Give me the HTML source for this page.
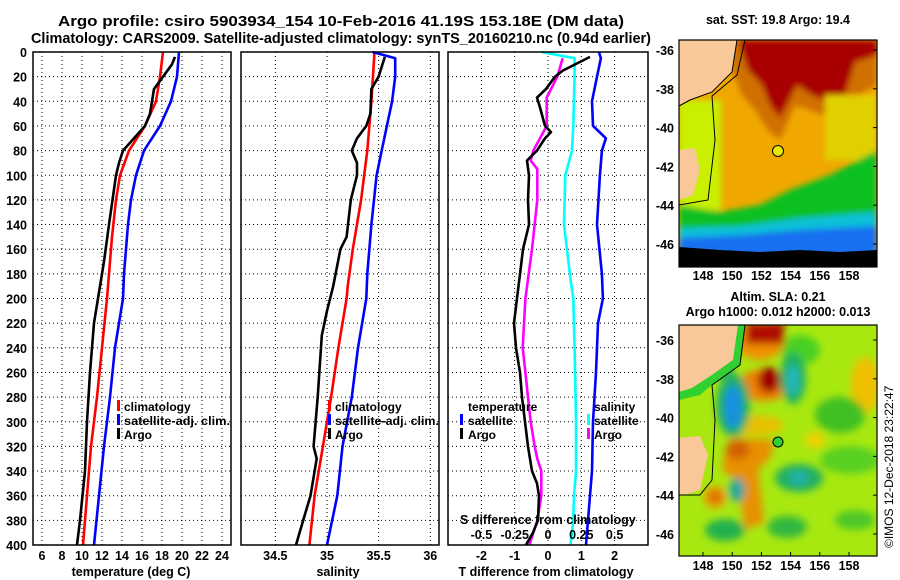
<!DOCTYPE html>
<html><head><meta charset="utf-8"><style>
body{margin:0;background:#fff;}
svg{display:block;font-family:"Liberation Sans",sans-serif;font-weight:bold;}
</style></head><body>
<svg id="chart" width="900" height="580" viewBox="0 0 900 580" xmlns="http://www.w3.org/2000/svg">
<defs>
<filter id="bl" x="-20%" y="-20%" width="140%" height="140%"><feGaussianBlur stdDeviation="3"/></filter>
<filter id="bl2" x="-50%" y="-50%" width="200%" height="200%"><feGaussianBlur stdDeviation="4"/></filter>
<clipPath id="c1"><rect x="679" y="40" width="198" height="227"/></clipPath>
<clipPath id="c2"><rect x="679" y="325" width="198" height="231"/></clipPath>
</defs>
<text x="341" y="26" font-size="15" text-anchor="middle" textLength="566" lengthAdjust="spacingAndGlyphs">Argo profile: csiro 5903934_154 10-Feb-2016 41.19S 153.18E (DM data)</text>
<text x="341" y="43" font-size="15" text-anchor="middle" textLength="620" lengthAdjust="spacingAndGlyphs">Climatology: CARS2009. Satellite-adjusted climatology: synTS_20160210.nc (0.94d earlier)</text>
<g id="grid"></g>
<g id="lines"></g>
<g id="axes"></g>

<g font-size="12">
<rect x="117" y="400" width="3" height="11" fill="#f00"/><text x="124" y="411">climatology</text>
<rect x="117" y="414" width="3" height="11" fill="#00f"/><text x="124" y="425" textLength="106" lengthAdjust="spacingAndGlyphs">satellite-adj. clim.</text>
<rect x="117" y="428" width="3" height="11" fill="#000"/><text x="124" y="439">Argo</text>
</g>
<g font-size="12">
<rect x="328" y="400" width="3" height="11" fill="#f00"/><text x="335" y="411">climatology</text>
<rect x="328" y="414" width="3" height="11" fill="#00f"/><text x="335" y="425" textLength="104" lengthAdjust="spacingAndGlyphs">satellite-adj. clim.</text>
<rect x="328" y="428" width="3" height="11" fill="#000"/><text x="335" y="439">Argo</text>
</g>
<g font-size="12">
<text x="468" y="411">temperature</text>
<rect x="460" y="414" width="3" height="11" fill="#00f"/><text x="468" y="425">satellite</text>
<rect x="460" y="428" width="3" height="11" fill="#000"/><text x="468" y="439">Argo</text>
<text x="594" y="411">salinity</text>
<rect x="587" y="414" width="3" height="11" fill="#0ff"/><text x="594" y="425">satellite</text>
<rect x="587" y="428" width="3" height="11" fill="#f0f"/><text x="594" y="439">Argo</text>
<text x="460" y="524" font-size="12.5">S difference from climatology</text>
</g>
<text x="131" y="576" font-size="12.5" text-anchor="middle">temperature (deg C)</text>
<text x="338" y="576" font-size="12.5" text-anchor="middle">salinity</text>
<text x="546" y="576" font-size="12.5" text-anchor="middle">T difference from climatology</text>

<text x="778" y="24" font-size="12.5" text-anchor="middle">sat. SST: 19.8 Argo: 19.4</text>
<g clip-path="url(#c1)">
<rect x="679" y="40" width="198" height="227" fill="#f0a800"/>
<g filter="url(#bl)">
<polygon points="728,40 877,40 877,85 850,100 835,110 822,115 810,110 795,105 780,140 768,130 755,110 742,95 732,70" fill="#d07000"/>
<polygon points="738,40 877,40 877,55 855,62 845,95 825,100 812,95 797,85 780,118 770,105 762,85 748,70" fill="#a80000"/>
<rect x="825" y="95" width="52" height="65" fill="#e0d000"/>
<rect x="679" y="100" width="42" height="110" fill="#c8f000"/>
<polygon points="679,205 720,212 760,205 790,190 830,175 877,150 877,267 679,267" fill="#10c020"/>
<polygon points="679,228 740,226 800,218 877,212 877,267 679,267" fill="#10c0d8"/>
<polygon points="679,238 740,235 800,230 877,226 877,267 679,267" fill="#1870f0"/>
</g>
<polygon points="679,247 720,250 760,252 800,250 840,252 877,250 877,267 679,267" fill="#000"/>
<polygon points="679,40 737,40 732,72 712,92 690,100 679,106" fill="#f8c898"/>
<polygon points="679,150 695,148 700,170 693,195 679,200" fill="#f8c898"/>
<polyline points="737,40 732,72 712,92 690,100 679,106" fill="none" stroke="#000" stroke-width="1"/>
<polyline points="745,40 737,75 712,96 715,140 708,200 679,205" fill="none" stroke="#000" stroke-width="1"/>
<circle cx="778" cy="151" r="5.5" fill="#e8e800" stroke="#000" stroke-width="1"/>
</g>
<rect x="679" y="40" width="198" height="227" fill="none" stroke="#000" stroke-width="1.2"/>

<text x="778" y="301" font-size="12.5" text-anchor="middle">Altim. SLA: 0.21</text>
<text x="778" y="316" font-size="12.5" text-anchor="middle">Argo h1000: 0.012 h2000: 0.013</text>
<g clip-path="url(#c2)">
<rect x="679" y="325" width="198" height="231" fill="#a8e810"/>
<g filter="url(#bl2)">
<ellipse cx="800" cy="350" rx="20" ry="15" fill="#48d020"/>
<ellipse cx="865" cy="385" rx="14" ry="28" fill="#f0c000"/>
<ellipse cx="840" cy="415" rx="25" ry="18" fill="#40c020"/>
<ellipse cx="760" cy="340" rx="25" ry="20" fill="#f09000"/>
<rect x="746" y="322" width="38" height="22" fill="#b01000"/>
<ellipse cx="764" cy="385" rx="26" ry="16" fill="#f08000"/>
<ellipse cx="769" cy="380" rx="11" ry="13" fill="#a00000"/>
<ellipse cx="722" cy="352" rx="14" ry="26" fill="#20b060"/>
<ellipse cx="722" cy="355" rx="7" ry="16" fill="#20a8d8"/>
<ellipse cx="793" cy="378" rx="13" ry="26" fill="#20b060"/>
<ellipse cx="793" cy="380" rx="6" ry="15" fill="#20b8c0"/>
<ellipse cx="752" cy="425" rx="32" ry="10" fill="#e8c000"/>
<ellipse cx="733" cy="405" rx="17" ry="32" fill="#20b060"/>
<ellipse cx="733" cy="407" rx="9" ry="22" fill="#1890e0"/>
<polygon points="730,438 775,440 770,458 758,470 764,522 745,530 738,482 722,470 725,450" fill="#e89000"/>
<ellipse cx="738" cy="450" rx="12" ry="9" fill="#d06000"/>
<ellipse cx="715" cy="497" rx="11" ry="11" fill="#f09000"/>
<ellipse cx="715" cy="497" rx="5" ry="5" fill="#d06000"/>
<ellipse cx="799" cy="478" rx="24" ry="14" fill="#20b060"/>
<ellipse cx="799" cy="478" rx="9" ry="7" fill="#20b0b0"/>
<ellipse cx="737" cy="490" rx="8" ry="12" fill="#20a8a0"/>
<ellipse cx="725" cy="530" rx="20" ry="11" fill="#20b050"/>
<ellipse cx="787" cy="527" rx="20" ry="11" fill="#30b840"/>
<ellipse cx="850" cy="460" rx="30" ry="14" fill="#58d020"/>
<ellipse cx="855" cy="520" rx="20" ry="10" fill="#50c828"/>
<ellipse cx="815" cy="440" rx="10" ry="8" fill="#f0d000"/>
</g>
<polygon points="679,325 738,325 733,360 712,375 692,388 679,392" fill="#f8c898"/>
<polygon points="679,438 700,436 708,455 700,490 684,495 679,495" fill="#f8c898"/>
<polygon points="738,325 745,325 740,365 715,382 700,395 679,400 679,392 692,388 712,375 733,360" fill="#30d030"/>
<polyline points="745,325 740,365 712,385 715,420 712,480 700,495 679,495" fill="none" stroke="#000" stroke-width="1"/>
<circle cx="778" cy="442" r="5" fill="#30d030" stroke="#000" stroke-width="1"/>
</g>
<rect x="679" y="325" width="198" height="231" fill="none" stroke="#000" stroke-width="1.2"/>
<g id="mapaxes"></g>
<text transform="translate(893,548) rotate(-90)" font-size="12" font-weight="normal">©IMOS 12-Dec-2018 23:22:47</text>
</svg>
<script>
const depthTicks = [0,20,40,60,80,100,120,140,160,180,200,220,240,260,280,300,320,340,360,380,400];
const tempTicks = [6,8,10,12,14,16,18,20,22,24];
const salTicks = [34.5,35,35.5,36];
const tdiffTicks = [-2,-1,0,1,2];
const sdiffTicks = [-0.5,-0.25,0,0.25,0.5];

const tClimD = [0,20,40,60,80,100,120,150,200,240,280,320,360,400];
const tClimV = [18.1,17.8,17.4,16.3,14.7,13.8,13.4,13.0,12.5,12.0,11.5,10.9,10.5,10.1];
const tSatD = [0,20,40,60,80,100,120,140,160,180,200,240,280,320,360,400];
const tSatV = [19.7,19.5,18.9,17.8,16.2,15.4,14.9,14.6,14.4,14.2,14.1,13.3,12.8,12.2,11.7,11.2];
const tArgoD = [4,10,20,30,50,60,70,80,90,100,140,170,200,220,260,300,340,380,400];
const tArgoV = [19.3,19.0,18.1,17.2,16.8,16.3,15.2,14.1,13.7,13.4,12.7,12.2,11.6,11.2,10.8,10.5,10.3,9.8,9.5];

const sClimD = [0,40,80,120,160,190,200,240,280,320,360,400];
const sClimV = [35.46,35.43,35.39,35.33,35.25,35.2,35.19,35.11,35.04,34.96,34.88,34.83];
const sSatD = [0,5,20,40,60,80,100,140,180,200,240,280,320,360,400];
const sSatV = [35.44,35.66,35.66,35.63,35.58,35.53,35.48,35.43,35.39,35.38,35.3,35.24,35.15,35.1,35.0];
const sArgoD = [4,20,30,50,60,70,80,90,100,120,150,160,190,210,230,280,320,330,360,380,400];
const sArgoV = [35.56,35.5,35.43,35.42,35.38,35.29,35.24,35.29,35.29,35.23,35.19,35.13,35.06,35.0,34.95,34.91,34.87,34.9,34.84,34.77,34.7];

const dSatSD = [0,5,20,60,80,100,140,185,200,240,300,340,360,380,400];
const dSatSV = [-0.05,0.2,0.2,0.19,0.18,0.13,0.12,0.17,0.19,0.2,0.21,0.21,0.195,0.19,0.17];
const dSatTD = [0,5,20,40,60,70,80,100,140,180,200,220,260,300,340,380,400];
const dSatTV = [1.53,1.59,1.47,1.32,1.35,1.74,1.62,1.56,1.47,1.62,1.65,1.5,1.44,1.35,1.32,1.2,1.14];
const dArgoTD = [4,15,20,30,37,45,60,65,70,80,88,100,120,140,160,200,220,240,260,280,300,320,340,350,360,380,390,400];
const dArgoTV = [1.26,0.45,0.21,-0.06,-0.33,-0.24,-0.09,0.09,-0.09,-0.33,-0.63,-0.57,-0.6,-0.57,-0.75,-0.93,-1.02,-0.96,-0.84,-0.78,-0.69,-0.6,-0.48,-0.33,-0.27,-0.3,-0.45,-0.66];
const dArgoSD = [5,20,37,60,70,80,88,95,120,160,200,240,260,280,300,320,330,340,360,380,400];
const dArgoSV = [0.11,0.07,-0.01,-0.01,-0.06,-0.11,-0.13,-0.08,-0.08,-0.12,-0.17,-0.19,-0.17,-0.15,-0.13,-0.1,-0.08,-0.05,-0.05,-0.08,-0.14];

const latTicks = [-36,-38,-40,-42,-44,-46];
const lonTicks = [148,150,152,154,156,158];

const yD = d => 52 + d*1.2325;
const xT = t => 42 + (t-6)*10;
const xS = s => 327 + (s-35)*103.3;
const xTd = v => 548 + v*33.3;
const xSd = v => 548 + v*133.2;
const panels = [{x0:33,x1:231},{x0:241,x1:439},{x0:448,x1:648}];
const NS = 'http://www.w3.org/2000/svg';
function mk(tag, attrs, parent){const e=document.createElementNS(NS,tag);for(const k in attrs)e.setAttribute(k,attrs[k]);parent.appendChild(e);return e;}
const grid=document.getElementById('grid'), lines=document.getElementById('lines'), axes=document.getElementById('axes'), mapaxes=document.getElementById('mapaxes');

panels.forEach(p=>{
  depthTicks.forEach(d=>{
    if(d===0||d===400) return;
    const l=mk('line',{x1:p.x0,x2:p.x1,y1:yD(d),y2:yD(d),stroke:'#000','stroke-width':1,'stroke-dasharray':'1,3'},grid);
    
    
  });
});
function vgrid(ticks, f){ticks.forEach(v=>{
  const l=mk('line',{x1:f(v),x2:f(v),y1:52,y2:545,stroke:'#000','stroke-width':1,'stroke-dasharray':'1,3'},grid);
  
  
});}
vgrid(tempTicks,xT); vgrid(salTicks,xS); vgrid(tdiffTicks,xTd);

function series(D,V,f,color,name){
  const pts=D.map((d,i)=>f(V[i]).toFixed(1)+','+yD(d).toFixed(1)).join(' ');
  const pl=mk('polyline',{points:pts,fill:'none',stroke:color,'stroke-width':2.6,'stroke-linejoin':'round'},lines);
  
  
}
series(tClimD,tClimV,xT,'#f00','temp-climatology-line');
series(tSatD,tSatV,xT,'#00f','temp-satellite-line');
series(tArgoD,tArgoV,xT,'#000','temp-argo-line');
series(sClimD,sClimV,xS,'#f00','sal-climatology-line');
series(sSatD,sSatV,xS,'#00f','sal-satellite-line');
series(sArgoD,sArgoV,xS,'#000','sal-argo-line');
series(dSatSD,dSatSV,xSd,'#0ff','sdiff-satellite-line');
series(dSatTD,dSatTV,xTd,'#00f','tdiff-satellite-line');
series(dArgoSD,dArgoSV,xSd,'#f0f','sdiff-argo-line');
series(dArgoTD,dArgoTV,xTd,'#000','tdiff-argo-line');

panels.forEach(p=>{
  const r=mk('rect',{x:p.x0,y:52,width:p.x1-p.x0,height:493,fill:'none',stroke:'#000','stroke-width':1.5},axes);
  
  
});
depthTicks.forEach(d=>{
  const t=mk('text',{x:27,y:yD(d)+5,'font-size':12.5,'text-anchor':'end'},axes);
  t.textContent=d;
  
  
});
function xlabels(ticks,f,y){ticks.forEach(v=>{
  const t=mk('text',{x:f(v),y:y,'font-size':12.5,'text-anchor':'middle'},axes);
  t.textContent=String(v);
  
  
});}
xlabels(tempTicks,xT,560); xlabels(salTicks,xS,560); xlabels(tdiffTicks,xTd,560); xlabels(sdiffTicks,xSd,539);

const latY1 = v => 50 + (-36 - v)*19.4;
const latY2 = v => 340 + (-36 - v)*19.4;
const lonX = v => 703 + (v-148)*14.6;
[latY1,latY2].forEach(fy=>{
  latTicks.forEach(v=>{
    const t=mk('text',{x:674,y:fy(v)+5,'font-size':12.5,'text-anchor':'end'},mapaxes);
    t.textContent=v;
    
    
    const k=mk('line',{x1:873,x2:877,y1:fy(v),y2:fy(v),stroke:'#000'},mapaxes);
    
    
  });
});
[[280,267],[570,556]].forEach(([ly,by])=>{
  lonTicks.forEach(v=>{
    const t=mk('text',{x:lonX(v),y:ly,'font-size':12.5,'text-anchor':'middle'},mapaxes);
    t.textContent=v;
    
    
    const k=mk('line',{x1:lonX(v),x2:lonX(v),y1:by,y2:by-4,stroke:'#000'},mapaxes);
    
    
  });
});
</script>
</body></html>
